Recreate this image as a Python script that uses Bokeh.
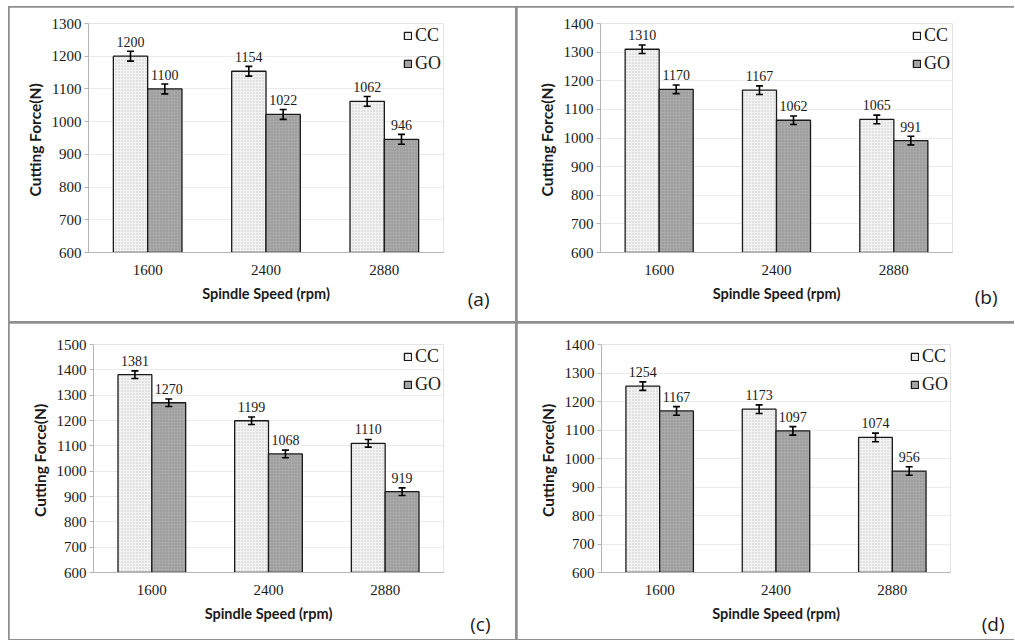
from bokeh.plotting import figure
from bokeh.models import ColumnDataSource, Whisker, TeeHead, Legend, LegendItem, Range1d, FixedTicker, Title
from bokeh.transform import dodge
from bokeh.layouts import row, column
from bokeh.core.properties import value
from bokeh.embed import file_html
from bokeh.resources import INLINE

speeds = ["1600", "2400", "2880"]

cc_a = [1200, 1154, 1062]
go_a = [1100, 1022, 946]
cc_b = [1310, 1167, 1065]
go_b = [1170, 1062, 991]
cc_c = [1381, 1199, 1110]
go_c = [1270, 1068, 919]
cc_d = [1254, 1173, 1074]
go_d = [1167, 1097, 956]

err_cc = [15, 15, 15]
err_go = [15, 15, 15]

y_min = 600
y_max = {"a": 1300, "b": 1400, "c": 1500, "d": 1400}

SERIF = value("Liberation Serif")
SANS = "Lato"

CC_FILL = "#f3f3f3"
GO_FILL = "#a9a9a9"


def panel(tag, cc, go, W, H, fl, fr, ft, fb, tag_off, tag_stand):
    p = figure(x_range=speeds, y_range=Range1d(y_min, y_max[tag]),
               width=W, height=H, output_backend="svg", toolbar_location=None,
               min_border_left=fl, min_border_right=fr, min_border_top=ft,
               min_border_bottom=fb)
    p.outline_line_color = None
    p.background_fill_color = "white"
    p.border_fill_color = "white"
    p.xgrid.grid_line_color = None
    p.ygrid.grid_line_color = "#ebebeb"
    p.ygrid.grid_line_width = 1

    src = ColumnDataSource(dict(
        x=speeds, cc=cc, go=go,
        cc_lo=[v - e for v, e in zip(cc, err_cc)], cc_hi=[v + e for v, e in zip(cc, err_cc)],
        go_lo=[v - e for v, e in zip(go, err_go)], go_hi=[v + e for v, e in zip(go, err_go)],
        cc_t=[str(v) for v in cc], go_t=[str(v) for v in go]))

    off = 0.145
    bw = 0.29
    r_cc = p.vbar(x=dodge("x", -off, range=p.x_range), top="cc", bottom=y_min, width=bw,
                  source=src, fill_color=CC_FILL, line_color="#1a1a1a", line_width=1.3,
                  hatch_pattern="dot", hatch_color="#c4c4c4", hatch_scale=3, hatch_weight=1)
    r_go = p.vbar(x=dodge("x", off, range=p.x_range), top="go", bottom=y_min, width=bw,
                  source=src, fill_color=GO_FILL, line_color="#1a1a1a", line_width=1.3,
                  hatch_pattern="dot", hatch_color="#8e8e8e", hatch_scale=3, hatch_weight=1)

    for key, o in (("cc", -off), ("go", off)):
        w = Whisker(base=dodge("x", o, range=p.x_range), lower=key + "_lo", upper=key + "_hi",
                    source=src, line_color="black", line_width=1.6, level="overlay",
                    upper_head=TeeHead(size=7, line_color="black", line_width=1.6),
                    lower_head=TeeHead(size=7, line_color="black", line_width=1.6))
        p.add_layout(w)
        p.text(x=dodge("x", o, range=p.x_range), y=key, text=key + "_t", source=src,
               text_font=SERIF, text_font_size="14px", text_color="#1a1a1a",
               text_align="center", text_baseline="alphabetic", y_offset=-14)

    p.yaxis.ticker = FixedTicker(ticks=list(range(y_min, y_max[tag] + 1, 100)))
    for ax in (p.xaxis[0], p.yaxis[0]):
        ax.axis_line_color = "#b5b5b5"
        ax.major_tick_line_color = "#b5b5b5"
        ax.minor_tick_line_color = None
        ax.major_label_text_font = "Liberation Serif"
        ax.major_label_text_font_size = "15px"
        ax.major_label_text_color = "#1a1a1a"
        ax.axis_label_text_font = SANS
        ax.axis_label_text_font_style = "bold"
        ax.axis_label_text_color = "#1a1a1a"
        ax.axis_label_text_font_size = "14.5px"
    p.yaxis.major_tick_out = 4
    p.yaxis.major_tick_in = 0
    p.yaxis.major_label_standoff = 3
    p.yaxis.axis_label = "Cutting  Force(N)"
    p.yaxis.axis_label_text_font_size = "15.5px"
    p.yaxis.axis_label_standoff = 5
    p.xaxis.major_tick_out = 0
    p.xaxis.major_tick_in = 0
    p.xaxis.major_label_standoff = 12
    p.xaxis.axis_label = "Spindle Speed (rpm)"
    p.xaxis.axis_label_standoff = 7

    legend = Legend(items=[LegendItem(label="CC", renderers=[r_cc]),
                           LegendItem(label="GO", renderers=[r_go])],
                    location="top_right", glyph_width=9, glyph_height=9,
                    label_text_font="Liberation Serif", label_text_font_size="18px",
                    label_text_color="#1a1a1a", label_standoff=3, label_height=20,
                    spacing=7, padding=0, margin=2, border_line_color=None,
                    background_fill_alpha=0)
    p.add_layout(legend)

    p.add_layout(Title(text="(" + tag + ")", align="right", vertical_align="top",
                       offset=tag_off, standoff=tag_stand,
                       text_font="Open Sans", text_font_size="19px", text_font_style="normal",
                       text_color="#1a1a1a"), "below")
    return p


pa = panel("a", cc_a, go_a, 506, 314, 79, 72, 13, 63, -46, -38)
pb = panel("b", cc_b, go_b, 497, 314, 83, 62, 16, 69, -45, -42)
pc = panel("c", cc_c, go_c, 506, 316, 84, 72, 20, 66, -47, -28)
pd = panel("d", cc_d, go_d, 497, 316, 84, 64, 21, 67, -54, -28)

pa.margin = (1, 0, 0, 1)
pb.margin = (1, 0, 0, 0)
pc.margin = (0, 0, 1, 1)
pd.margin = (0, 0, 1, 0)

lay = column(row(pa, pb, spacing=2), row(pc, pd, spacing=2),
             spacing=2, margin=(6, 0, 0, 8), styles={"background-color": "#8f8f8f"})

open("out.html", "w").write(file_html(lay, INLINE))
